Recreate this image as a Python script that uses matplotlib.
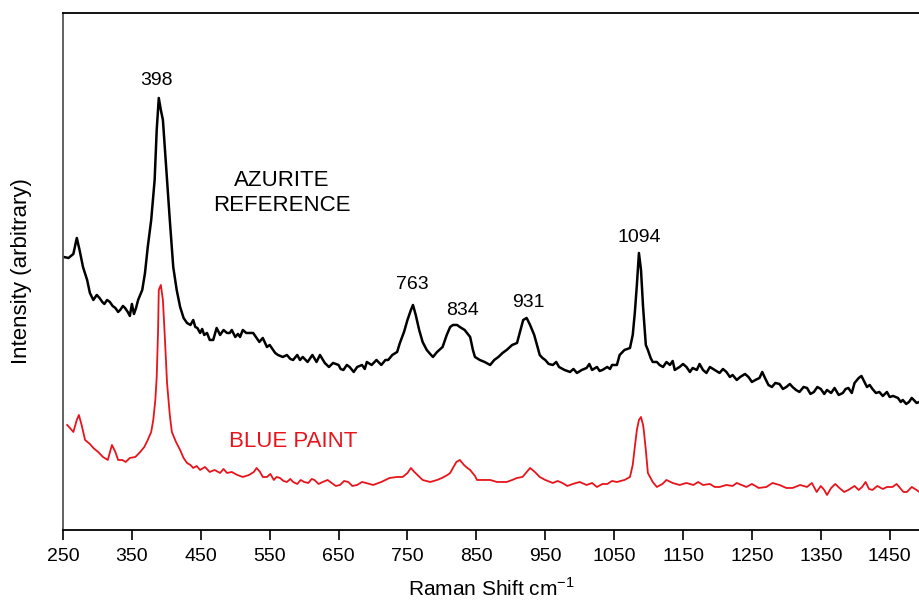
import matplotlib
matplotlib.use("Agg")
import matplotlib.pyplot as plt

plt.rcParams['font.family'] = ['Liberation Sans', 'DejaVu Sans']

# azurite reference spectrum (Raman shift, intensity in arbitrary units)
azurite_shift = [251, 258, 265, 270, 274, 279, 285, 289, 294, 299, 303, 307, 310, 314, 318, 322, 326, 330, 333, 337, 340,
                 344, 347, 350, 353, 356, 359, 365, 369, 373, 378, 383, 386, 389, 392, 395, 398, 401,
                 405, 410, 415, 420, 425, 430, 435, 439, 442, 445, 449, 452, 455, 459, 463, 468, 473,
                 478, 483, 488, 492, 495, 500, 504, 507, 511, 516, 521, 526, 531, 535, 540, 546,
                 550, 555, 558, 562, 569, 575, 580, 584, 590, 594, 598, 605, 612, 618, 623, 630, 636, 642, 650,
                 653, 657, 662, 666, 672, 677, 684, 688, 691, 698, 705, 712, 718, 722, 728, 735, 739, 745,
                 750, 755, 758, 762, 767, 772, 778, 783, 787, 793, 801, 807, 812, 816, 822,
                 826, 833, 841, 845, 848, 855, 862, 870, 876, 882, 888, 894, 902, 909, 914,
                 918, 923, 928, 934, 942, 946, 950, 955, 961, 966, 970, 978, 986, 991, 996, 1003, 1010, 1014, 1018, 1025,
                 1029, 1033, 1040, 1044, 1047, 1054, 1058, 1065, 1073, 1077, 1080, 1083, 1086, 1089, 1092, 1096, 1099,
                 1103, 1106, 1112, 1116, 1121, 1126, 1131, 1135, 1138, 1145, 1150, 1155, 1160, 1164, 1170, 1174, 1179, 1184, 1189, 1196, 1203,
                 1208, 1213, 1218, 1222, 1228, 1233, 1240, 1245, 1250, 1255, 1261, 1265, 1269, 1274, 1279, 1284, 1290, 1295, 1300, 1305, 1309, 1314, 1319,
                 1325, 1330, 1335, 1340, 1345, 1350, 1355, 1359, 1365, 1370, 1376, 1382, 1386, 1390, 1395, 1399, 1405, 1409, 1417, 1421, 1425, 1430, 1435, 1440, 1446, 1450, 1455,
                 1462, 1466, 1469, 1474, 1478, 1482, 1485, 1489, 1493]
azurite_int = [273, 272, 276, 292, 280, 263, 250, 237, 230, 235, 232, 228, 226, 230, 228, 224, 222, 218, 220, 224, 222,
               218, 214, 226, 216, 222, 230, 240, 257, 283, 310, 350, 400, 432, 420, 410, 380, 350,
               310, 263, 240, 223, 212, 207, 205, 210, 203, 202, 197, 201, 195, 197, 190, 190, 202,
               195, 200, 197, 197, 200, 193, 196, 193, 200, 197, 197, 197, 192, 188, 192, 183,
               185, 180, 177, 175, 173, 175, 171, 170, 175, 170, 173, 168, 175, 168, 175, 167, 163, 167, 165,
               161, 160, 165, 163, 158, 163, 165, 161, 168, 165, 170, 165, 170, 170, 175, 178, 187, 198,
               210, 220, 225, 215, 200, 188, 180, 176, 173, 178, 183, 195, 203, 205, 205,
               203, 200, 193, 180, 173, 170, 168, 165, 170, 173, 177, 180, 185, 187, 200,
               210, 212, 205, 195, 175, 172, 170, 166, 165, 168, 163, 160, 158, 161, 157, 160, 162, 166, 160, 163,
               159, 160, 163, 161, 165, 165, 175, 180, 182, 195, 217, 245, 277, 260, 223, 185, 180,
               172, 168, 168, 165, 163, 168, 165, 169, 160, 163, 166, 163, 158, 162, 160, 166, 160, 157, 163, 160, 157,
               161, 158, 153, 155, 150, 153, 156, 153, 148, 150, 152, 158, 152, 145, 143, 147, 146, 141, 143, 146, 143, 140, 138,
               143, 142, 136, 138, 143, 141, 136, 140, 137, 142, 135, 137, 141, 142, 137, 147, 152, 154, 143, 145, 141, 137, 138, 134, 138, 133, 134,
               132, 128, 130, 126, 128, 132, 130, 127, 128]

# blue paint sample spectrum
paint_shift = [256, 260, 265, 270, 273, 277, 282, 289, 294, 301, 308, 315, 321, 326, 330,
               336, 341, 347, 355, 362, 368, 373, 378, 381, 384, 386, 388, 389, 392, 394,
               395, 398, 401, 405, 408, 414, 420, 425, 430, 435, 439, 444, 449, 456, 463, 470, 478,
               483, 488, 495, 503, 511, 520, 527, 531, 536, 540, 546, 551, 556, 560, 565, 570, 575, 580, 584, 590, 595,
               600, 606, 611, 615, 621, 627, 634, 640, 646, 652, 658, 664, 670, 677, 684, 690, 700, 712, 724, 735, 743, 750, 755,
               760, 766, 772, 783, 793, 800, 808, 812, 816, 821, 826, 832, 837, 841, 848,
               851, 860, 870, 880, 894, 902, 909, 917, 923, 928, 935, 942, 950, 961, 968, 975,
               982, 990, 1000, 1010, 1018, 1025, 1033, 1040, 1047, 1054, 1065, 1073, 1077, 1080, 1083, 1086, 1089, 1092, 1093, 1096,
               1099, 1106, 1112, 1120, 1126, 1135, 1145, 1155, 1165, 1172, 1179, 1189, 1196, 1203, 1213, 1222, 1228, 1235,
               1242, 1250, 1260, 1271, 1280, 1290, 1300, 1309, 1320, 1330, 1337, 1344, 1350, 1355, 1359, 1365, 1371, 1377, 1384, 1390, 1399, 1405, 1410, 1415, 1420, 1425,
               1432, 1440, 1446, 1454, 1460, 1465, 1470, 1475, 1482, 1489, 1493]
paint_int = [105, 102, 98, 110, 115, 105, 90, 86, 82, 78, 73, 70, 85, 78, 70,
             70, 68, 72, 73, 78, 83, 90, 98, 110, 130, 153, 200, 240, 245, 235,
             230, 190, 147, 115, 98, 88, 80, 72, 67, 65, 62, 64, 60, 63, 58, 60, 57,
             61, 57, 58, 55, 53, 55, 58, 62, 58, 53, 53, 56, 50, 53, 52, 49, 48, 51, 48, 46, 50,
             48, 47, 51, 50, 46, 48, 50, 47, 44, 45, 49, 48, 44, 45, 48, 47, 45, 48, 52, 53, 53, 57, 62,
             58, 54, 50, 48, 50, 52, 55, 57, 62, 68, 70, 65, 62, 60, 54,
             50, 50, 50, 48, 48, 50, 52, 53, 58, 62, 58, 53, 50, 47, 49, 47,
             44, 46, 48, 45, 47, 43, 46, 46, 49, 48, 50, 53, 65, 83, 100, 110, 113, 105, 100, 80,
             57, 48, 43, 46, 50, 47, 45, 47, 45, 48, 45, 46, 43, 43, 45, 44, 47, 45,
             43, 46, 42, 43, 47, 45, 42, 42, 45, 43, 47, 38, 44, 40, 35, 42, 46, 42, 38, 40, 44, 40, 43, 48, 41, 40,
             44, 41, 43, 43, 46, 42, 38, 38, 43, 40, 38]

xticks = [250, 350, 450, 550, 650, 750, 850, 950, 1050, 1150, 1250, 1350, 1450]

# peak labels: (text, x, y)
peak_labels = [('398', 386, 441), ('763', 757, 237), ('834', 830, 211),
               ('931', 925, 219), ('1094', 1086, 284)]

fig = plt.figure(figsize=(9.2, 6), dpi=100)
ax = fig.add_axes([0.0685, 0.1167, 0.9315, 0.8617])

ax.plot(azurite_shift, azurite_int, color='black', lw=1.8)
ax.plot(paint_shift, paint_int, color='#e8141c', lw=1.3)

for txt, x, y in peak_labels:
    ax.text(x, y, txt, fontsize=14, ha='center', va='bottom')

ax.text(568, 337, 'AZURITE\nREFERENCE', fontsize=16, ha='center', va='center',
        linespacing=1.2)
ax.text(584, 88, 'BLUE PAINT', fontsize=16, ha='center', va='center', color='#e8141c')

ax.set_xlim(250, 1494)
ax.set_ylim(0, 517)
ax.set_xticks(xticks)
ax.set_yticks([])
ax.tick_params(axis='x', direction='out', length=7, width=1.2, labelsize=14, pad=6)

ax.spines['right'].set_visible(False)
ax.spines['left'].set_color('#555555')
for s in ['top', 'bottom', 'left']:
    ax.spines[s].set_linewidth(1.3)

ax.set_ylabel('Intensity (arbitrary)', fontsize=16, labelpad=22)
ax.set_xlabel('Raman Shift cm$^{\\mathregular{-1}}$', fontsize=15, labelpad=9)

fig.savefig('out.png', dpi=100)
